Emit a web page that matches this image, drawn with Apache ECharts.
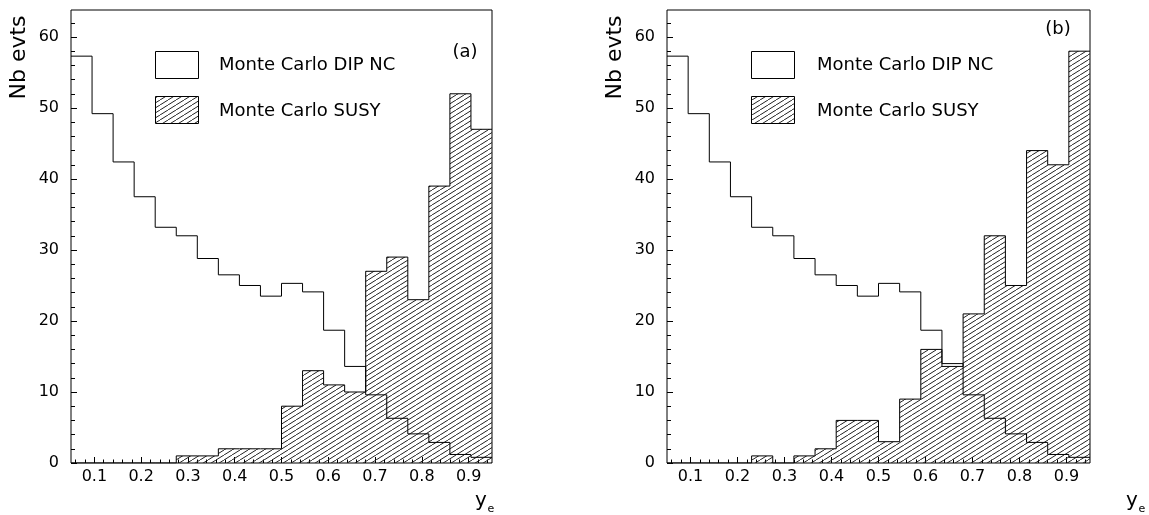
<!DOCTYPE html>
<html>
<head>
<meta charset="utf-8">
<script src="https://cdn.jsdelivr.net/npm/echarts@6/dist/echarts.min.js"></script>
<style>
  html, body { margin: 0; padding: 0; background: #fff; }
  #chart { width: 1149px; height: 515px; }
</style>
</head>
<body>
<div id="chart"></div>
<script>
// Bin edges in y_e (20 bins)
const binEdges = [0.05, 0.095, 0.14, 0.185, 0.23, 0.275, 0.32, 0.365, 0.41, 0.455, 0.5,
                  0.545, 0.59, 0.635, 0.68, 0.725, 0.77, 0.815, 0.86, 0.905, 0.95];

// Panel (a)
const dipNcA = [57.3, 49.2, 42.4, 37.5, 33.2, 32.0, 28.8, 26.5, 25.0, 23.5,
                25.3, 24.1, 18.7, 13.6, 9.6, 6.3, 4.1, 2.9, 1.2, 0.8];
const susyA  = [0, 0, 0, 0, 0, 1, 1, 2, 2, 2,
                8, 13, 11, 10, 27, 29, 23, 39, 52, 47];

// Panel (b)
const dipNcB = [57.3, 49.2, 42.4, 37.5, 33.2, 32.0, 28.8, 26.5, 25.0, 23.5,
                25.3, 24.1, 18.7, 14.0, 9.6, 6.3, 4.1, 2.9, 1.2, 0.8];
const susyB  = [0, 0, 0, 0, 1, 0, 1, 2, 6, 6,
                3, 9, 16, 13.6, 21, 32, 25, 44, 42, 58];

// Axis ticks
const xTickLabels = [0.1, 0.2, 0.3, 0.4, 0.5, 0.6, 0.7, 0.8, 0.9];
const xMinorTicks = [0.06, 0.08, 0.12, 0.14, 0.16, 0.18, 0.22, 0.24, 0.26, 0.28,
                     0.32, 0.34, 0.36, 0.38, 0.42, 0.44, 0.46, 0.48, 0.52, 0.54,
                     0.56, 0.58, 0.62, 0.64, 0.66, 0.68, 0.72, 0.74, 0.76, 0.78,
                     0.82, 0.84, 0.86, 0.88, 0.92, 0.94];
const yTickLabels = [0, 10, 20, 30, 40, 50, 60];
const yMinorTicks = [2, 4, 6, 8, 12, 14, 16, 18, 22, 24, 26, 28, 32, 34, 36, 38,
                     42, 44, 46, 48, 52, 54, 56, 58, 62];

const seriesNames = ['Monte Carlo DIP NC', 'Monte Carlo SUSY'];
const panelTags = ['(a)', '(b)'];
const yTitle = 'Nb evts';

const FONT = '"DejaVu Sans", "Liberation Sans", Arial, sans-serif';

// Diagonal hatching tile
function makeHatch() {
  const c = document.createElement('canvas');
  c.width = 8; c.height = 5;
  const g = c.getContext('2d');
  g.strokeStyle = '#222';
  g.lineWidth = 1;
  g.beginPath();
  for (const dx of [-8, 0, 8]) { g.moveTo(dx, 5); g.lineTo(dx + 8, 0); }
  g.stroke();
  return c;
}
const hatch = { image: makeHatch(), repeat: 'repeat' };

// Step-histogram points: value of each bin held from its lower edge to the next
function stepData(vals) {
  return binEdges.map((e, i) => [e, vals[Math.min(i, vals.length - 1)]]);
}

const grids = [
  { left: 71, top: 10, width: 421, height: 453 },
  { left: 667, top: 10, width: 423, height: 453 }
];

const xAxes = [], yAxes = [], series = [];
grids.forEach((g, gi) => {
  xAxes.push({
    gridIndex: gi, type: 'value', min: 0.05, max: 0.95, position: 'bottom',
    axisLine: { show: false, onZero: false }, splitLine: { show: false },
    axisTick: { inside: true, length: 6, customValues: xTickLabels, lineStyle: { color: '#000' } },
    axisLabel: { customValues: xTickLabels, margin: 6, fontSize: 16, fontFamily: FONT, color: '#000' }
  });
  xAxes.push({
    gridIndex: gi, type: 'value', min: 0.05, max: 0.95, position: 'bottom',
    axisLine: { show: false, onZero: false }, splitLine: { show: false },
    axisTick: { inside: true, length: 3.5, customValues: xMinorTicks, lineStyle: { color: '#000' } },
    axisLabel: { show: false }
  });
  yAxes.push({
    gridIndex: gi, type: 'value', min: 0, max: 63.8, position: 'left',
    axisLine: { show: false, onZero: false }, splitLine: { show: false },
    axisTick: { inside: true, length: 6, customValues: yTickLabels, lineStyle: { color: '#000' } },
    axisLabel: { customValues: yTickLabels, margin: 12, fontSize: 16, fontFamily: FONT, color: '#000' }
  });
  yAxes.push({
    gridIndex: gi, type: 'value', min: 0, max: 63.8, position: 'left',
    axisLine: { show: false, onZero: false }, splitLine: { show: false },
    axisTick: { inside: true, length: 4, customValues: yMinorTicks, lineStyle: { color: '#000' } },
    axisLabel: { show: false }
  });
});

const panels = [
  { dip: dipNcA, susy: susyA },
  { dip: dipNcB, susy: susyB }
];
panels.forEach((p, pi) => {
  series.push({
    name: seriesNames[1], type: 'line', step: 'end', symbol: 'none',
    xAxisIndex: pi * 2, yAxisIndex: pi * 2, z: 2, silent: true,
    lineStyle: { color: '#000', width: 1 },
    areaStyle: { color: hatch, opacity: 1 },
    data: stepData(p.susy)
  });
  series.push({
    name: seriesNames[0], type: 'line', step: 'end', symbol: 'none',
    xAxisIndex: pi * 2, yAxisIndex: pi * 2, z: 3, silent: true,
    lineStyle: { color: '#000', width: 1 },
    data: stepData(p.dip)
  });
});

// Legends, panel tags and axis titles
const graphics = [];
const legendPos = [{ box: 155.5, text: 219 }, { box: 751.5, text: 817 }];
const tagPos = [{ x: 465, y: 52 }, { x: 1058, y: 29 }];
const yTitleX = [19, 615];
const xTitleX = [475, 1126];
legendPos.forEach((lp, i) => {
  graphics.push({ type: 'rect', shape: { x: lp.box, y: 51.5, width: 43, height: 27 },
    style: { fill: '#fff', stroke: '#000', lineWidth: 1 } });
  graphics.push({ type: 'text', x: lp.text, y: 65.5,
    style: { text: seriesNames[0], font: '18px ' + FONT, fill: '#000', align: 'left', verticalAlign: 'middle' } });
  graphics.push({ type: 'rect', shape: { x: lp.box, y: 96.5, width: 43, height: 27 },
    style: { fill: hatch, stroke: '#000', lineWidth: 1 } });
  graphics.push({ type: 'text', x: lp.text, y: 111.5,
    style: { text: seriesNames[1], font: '18px ' + FONT, fill: '#000', align: 'left', verticalAlign: 'middle' } });
  graphics.push({ type: 'text', x: tagPos[i].x, y: tagPos[i].y,
    style: { text: panelTags[i], font: '18px ' + FONT, fill: '#000', align: 'center', verticalAlign: 'middle' } });
  graphics.push({ type: 'text', x: yTitleX[i], y: 57.5, rotation: Math.PI / 2,
    style: { text: yTitle, font: '22px ' + FONT, fill: '#000', align: 'center', verticalAlign: 'middle' } });
  graphics.push({ type: 'text', x: xTitleX[i], y: 501,
    style: { text: 'y', font: '20px ' + FONT, fill: '#000', align: 'left', verticalAlign: 'middle' } });
  graphics.push({ type: 'text', x: xTitleX[i] + 12.5, y: 509,
    style: { text: 'e', font: '11px ' + FONT, fill: '#000', align: 'left', verticalAlign: 'middle' } });
});

const chart = echarts.init(document.getElementById('chart'), null, { renderer: 'canvas' });
chart.setOption({
  animation: false,
  backgroundColor: '#fff',
  grid: grids.map(g => Object.assign({ show: true, borderColor: '#000', borderWidth: 1,
                                       backgroundColor: 'transparent' }, g)),
  xAxis: xAxes,
  yAxis: yAxes,
  series: series,
  graphic: graphics
});
</script>
</body>
</html>
